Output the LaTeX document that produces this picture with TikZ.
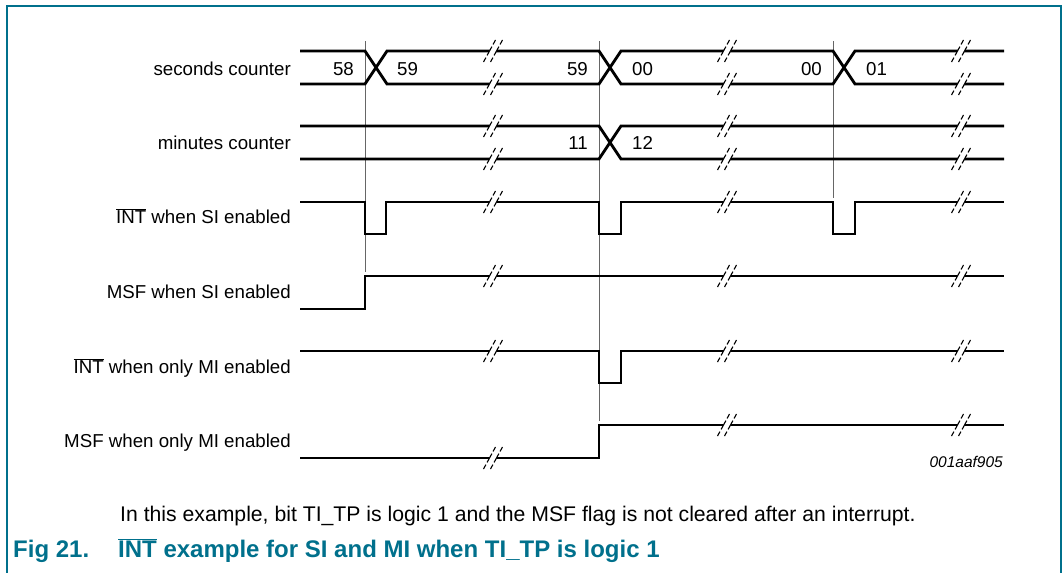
\documentclass[tikz,border=0pt]{standalone}
\usepackage{fontspec}
\setmainfont{Liberation Sans}
\usetikzlibrary{positioning}

\definecolor{nxpteal}{RGB}{0,112,140}
\newcommand{\intbar}{$\overline{\mbox{INT}}$}
% break mark on a signal line
\newcommand{\sigbreak}[2]{%
  \fill[white] ({#1-2.4},{#2-2.2}) -- ({#1+4.6},{#2-2.2}) -- ({#1+2.4},{#2+2.2}) -- ({#1-4.6},{#2+2.2}) -- cycle;
  \draw[brkmark] ({#1-9.5},{#2+11}) -- ({#1+2.5},{#2-11});
  \draw[brkmark] ({#1-2.5},{#2+11}) -- ({#1+9.5},{#2-11});
}

\begin{document}
\begin{tikzpicture}[x=1pt, y=-1pt,
    font=\fontsize{18.7}{22}\selectfont,
    sig/.style={line width=2.8pt, line join=miter},
    guide/.style={draw=black!60, line width=1pt},
    brkmark/.style={line width=1.1pt, dash pattern=on 5pt off 2.5pt on 10pt off 2.5pt on 6pt off 20pt},
    figfont/.style={inner sep=0pt, anchor=base west, text=nxpteal, font=\fontsize{24}{28}\selectfont\bfseries}]

\useasboundingbox (0,0) rectangle (1063,573);

% frame
\draw[nxpteal, line width=2pt] (7,573) -- (7,6) -- (1061,6) -- (1061,573);

% guide lines
\draw[guide] (365,41) -- (365,272);
\draw[guide] (599,41) -- (599,421);
\draw[guide] (833,41) -- (833,198);

% seconds counter
\draw[sig] (300,51) -- (365,51) -- (387,84) -- (599,84) -- (621,51) -- (833,51) -- (855,84) -- (1004,84);
\draw[sig] (300,84) -- (365,84) -- (387,51) -- (599,51) -- (621,84) -- (833,84) -- (855,51) -- (1004,51);

% minutes counter
\draw[sig] (300,126) -- (599,126) -- (621,159) -- (1004,159);
\draw[sig] (300,159) -- (599,159) -- (621,126) -- (1004,126);

% INT when SI enabled
\draw[sig] (300,202) -- (365,202) -- (365,234) -- (386,234) -- (386,202) -- (599,202) -- (599,234) -- (621,234) -- (621,202)
    -- (833,202) -- (833,234) -- (855,234) -- (855,202) -- (1004,202);

% MSF when SI enabled
\draw[sig] (300,309) -- (365,309) -- (365,276) -- (1004,276);

% INT when only MI enabled
\draw[sig] (300,351) -- (599,351) -- (599,383) -- (621,383) -- (621,351) -- (1004,351);

% MSF when only MI enabled
\draw[sig] (300,458) -- (599,458) -- (599,425) -- (1004,425);

% breaks
\foreach \y in {51,84,126,159,202,276,351}
    \foreach \x in {493,727,961}
        \sigbreak{\x}{\y};
\sigbreak{493}{458}
\sigbreak{727}{425}
\sigbreak{961}{425}

\begin{scope}[every node/.style={inner sep=0pt, anchor=base east}]
    \node (lsec) at (291,75) {seconds counter};
    \node (lmin) at (291,149) {minutes counter};
    \node (lintsi) at (291,223) {\intbar{} when SI enabled};
    \node (lmsfsi) at (291,298) {MSF when SI enabled};
    \node (lintmi) at (291,373) {\intbar{} when only MI enabled};
    \node (lmsfmi) at (291,447) {MSF when only MI enabled};
\end{scope}

\begin{scope}[every node/.style={inner sep=0pt}]
    \node[anchor=base east] (s58) at (354,75) {58};
    \node[anchor=base west] (s59a) at (397,75) {59};
    \node[anchor=base east] (s59b) at (588,75) {59};
    \node[anchor=base west] (s00a) at (632,75) {00};
    \node[anchor=base east] (s00b) at (822,75) {00};
    \node[anchor=base west] (s01) at (866,75) {01};
    \node[anchor=base east] (m11) at (588,149) {11};
    \node[anchor=base west] (m12) at (632,149) {12};
\end{scope}

\node[inner sep=0pt, anchor=base east, font=\fontsize{15.5}{18}\selectfont\itshape] (code) at (1003,467) {001aaf905};

\node[inner sep=0pt, anchor=base west, font=\fontsize{21.2}{25}\selectfont] (note) at (120,521)
    {In this example, bit TI\_TP is logic 1 and the MSF flag is not cleared after an interrupt.};

\node[figfont] (fig) at (13,557) {Fig 21.};
\node[figfont] (figtext) at (118,557) {\intbar{} example for SI and MI when TI\_TP is logic 1};

\end{tikzpicture}
\end{document}
